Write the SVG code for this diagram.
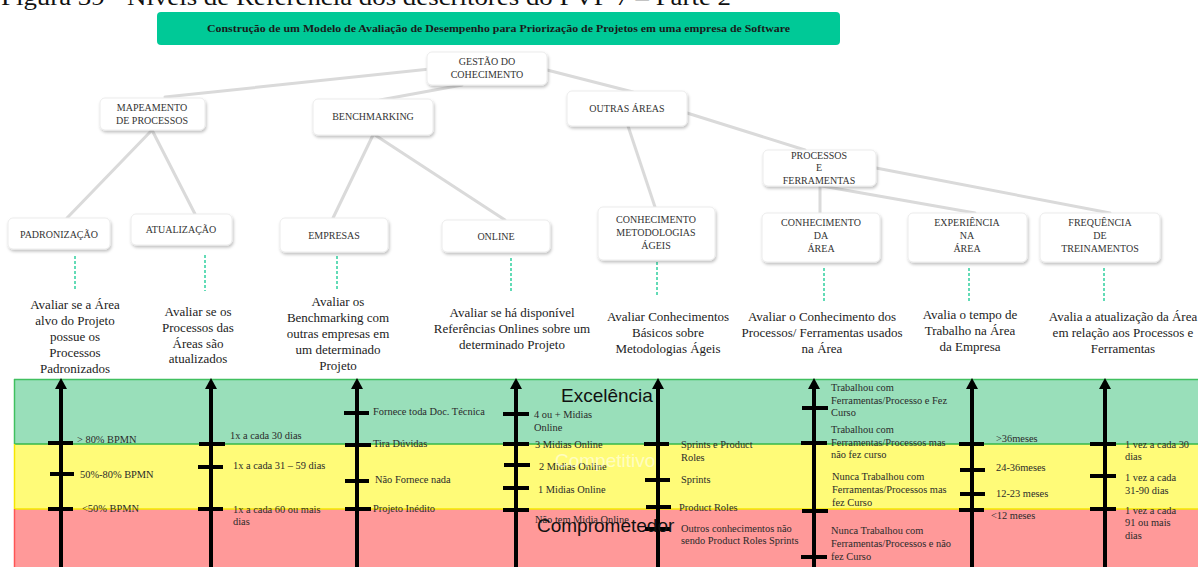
<svg xmlns="http://www.w3.org/2000/svg" width="1198" height="567" viewBox="0 0 1198 567">
  <style>
    .cap { font-family: "Liberation Serif", "Times New Roman", serif; font-size: 24px; fill: #111; }
    .title { font-family: "Liberation Serif", "Times New Roman", serif; font-weight: bold; font-size: 11px; fill: #1a1a1a; }
    .box { fill: #ffffff; stroke: #ececec; stroke-width: 1; filter: url(#shadow); }
    .nt { font-family: "Liberation Serif", "Times New Roman", serif; font-size: 10px; fill: #333; text-anchor: middle; }
    .link { stroke: #dadada; stroke-width: 3; fill: none; stroke-linecap: round; }
    .dash { stroke: #2fcf9f; stroke-width: 1.5; stroke-dasharray: 3 2; fill: none; }
    .desc { font-family: "Liberation Serif", "Times New Roman", serif; font-size: 13px; fill: #222; text-anchor: middle; }
    .axis { stroke: #000; stroke-width: 4; }
    .tick { stroke: #000; stroke-width: 4; }
    .lbl { font-family: "Liberation Serif", "Times New Roman", serif; font-size: 10.4px; fill: #2a2a2a; }
    .band { font-family: "Liberation Sans", Arial, sans-serif; font-size: 19px; }
  </style>
  <defs>
    <filter id="shadow" x="-10%" y="-20%" width="125%" height="160%">
      <feDropShadow dx="1" dy="2" stdDeviation="1.5" flood-color="#000" flood-opacity="0.25"/>
    </filter>
    <!-- arrowhead: base sits on the line end, tip extends 11px beyond -->
    <marker id="head" viewBox="0 0 11 12" refX="0" refY="6" markerWidth="11" markerHeight="12" markerUnits="userSpaceOnUse" orient="auto">
      <path d="M0 0 L11 6 L0 12 Z" fill="#000"/>
    </marker>
  </defs>

  <rect x="0" y="0" width="1198" height="567" fill="#ffffff"/>

  <!-- caption (clipped at top of page) -->
  <text class="cap" x="1" y="5" textLength="730" lengthAdjust="spacingAndGlyphs">Figura 39 - Níveis de Referência dos descritores do PVF 7 – Parte 2</text>

  <!-- title banner -->
  <g id="title">
    <rect x="157" y="12" width="683" height="33" rx="4" fill="#00c997"/>
    <text class="title" x="207" y="32" textLength="583" lengthAdjust="spacingAndGlyphs">Construção de um Modelo de Avaliação de Desempenho para Priorização de Projetos em uma empresa de Software</text>
  </g>

  <!-- tree connectors -->
  <g id="connectors">
    <line class="link" x1="430" y1="69" x2="165" y2="97"/>
    <line class="link" x1="462" y1="85" x2="380" y2="100"/>
    <line class="link" x1="547" y1="70" x2="633" y2="92"/>
    <line class="link" x1="152" y1="130" x2="67" y2="218"/>
    <line class="link" x1="152" y1="130" x2="195" y2="214"/>
    <line class="link" x1="373" y1="135" x2="333" y2="218"/>
    <line class="link" x1="375" y1="135" x2="505" y2="220"/>
    <line class="link" x1="628" y1="126" x2="655" y2="207"/>
    <line class="link" x1="687" y1="113" x2="805" y2="150"/>
    <line class="link" x1="820" y1="186" x2="820" y2="213"/>
    <line class="link" x1="822" y1="186" x2="975" y2="213"/>
    <line class="link" x1="876" y1="168" x2="1110" y2="213"/>
    <!-- dashed leaders to descriptions -->
    <line class="dash" x1="75" y1="256" x2="75" y2="291"/>
    <line class="dash" x1="205" y1="255" x2="205" y2="291"/>
    <line class="dash" x1="337" y1="256" x2="337" y2="291"/>
    <line class="dash" x1="511" y1="258" x2="511" y2="292"/>
    <line class="dash" x1="657" y1="262" x2="657" y2="297"/>
    <line class="dash" x1="824" y1="268" x2="824" y2="303"/>
    <line class="dash" x1="969" y1="268" x2="969" y2="303"/>
    <line class="dash" x1="1104" y1="268" x2="1104" y2="303"/>
  </g>

  <!-- tree nodes -->
  <g id="n-gestao">
    <rect class="box" x="427" y="52" width="120" height="33" rx="5"/>
    <text class="nt" x="487" y="65">GESTÃO DO</text>
    <text class="nt" x="487" y="78">COHECIMENTO</text>
  </g>
  <g id="n-mapeamento">
    <rect class="box" x="100" y="98" width="105" height="32" rx="5"/>
    <text class="nt" x="152" y="111">MAPEAMENTO</text>
    <text class="nt" x="152" y="124">DE PROCESSOS</text>
  </g>
  <g id="n-benchmarking">
    <rect class="box" x="313" y="99" width="120" height="36" rx="5"/>
    <text class="nt" x="373" y="120">BENCHMARKING</text>
  </g>
  <g id="n-outras">
    <rect class="box" x="567" y="91" width="120" height="35" rx="5"/>
    <text class="nt" x="627" y="112">OUTRAS ÁREAS</text>
  </g>
  <g id="n-processos">
    <rect class="box" x="763" y="150" width="113" height="36" rx="5"/>
    <text class="nt" x="819" y="159">PROCESSOS</text>
    <text class="nt" x="819" y="171">E</text>
    <text class="nt" x="819" y="184">FERRAMENTAS</text>
  </g>
  <g id="n-padronizacao">
    <rect class="box" x="8" y="218" width="102" height="31" rx="5"/>
    <text class="nt" x="59" y="238">PADRONIZAÇÃO</text>
  </g>
  <g id="n-atualizacao">
    <rect class="box" x="131" y="214" width="101" height="31" rx="5"/>
    <text class="nt" x="181" y="233">ATUALIZAÇÃO</text>
  </g>
  <g id="n-empresas">
    <rect class="box" x="280" y="218" width="108" height="34" rx="5"/>
    <text class="nt" x="334" y="239">EMPRESAS</text>
  </g>
  <g id="n-online">
    <rect class="box" x="442" y="220" width="108" height="32" rx="5"/>
    <text class="nt" x="496" y="240">ONLINE</text>
  </g>
  <g id="n-metodologias">
    <rect class="box" x="598" y="207" width="117" height="53" rx="5"/>
    <text class="nt" x="656" y="223">CONHECIMENTO</text>
    <text class="nt" x="656" y="236">METODOLOGIAS</text>
    <text class="nt" x="656" y="249">ÁGEIS</text>
  </g>
  <g id="n-conhecimento-area">
    <rect class="box" x="762" y="213" width="118" height="49" rx="5"/>
    <text class="nt" x="821" y="226">CONHECIMENTO</text>
    <text class="nt" x="821" y="239">DA</text>
    <text class="nt" x="821" y="252">ÁREA</text>
  </g>
  <g id="n-experiencia">
    <rect class="box" x="908" y="213" width="119" height="49" rx="5"/>
    <text class="nt" x="967" y="226">EXPERIÊNCIA</text>
    <text class="nt" x="967" y="239">NA</text>
    <text class="nt" x="967" y="252">ÁREA</text>
  </g>
  <g id="n-frequencia">
    <rect class="box" x="1040" y="213" width="120" height="49" rx="5"/>
    <text class="nt" x="1100" y="226">FREQUÊNCIA</text>
    <text class="nt" x="1100" y="239">DE</text>
    <text class="nt" x="1100" y="252">TREINAMENTOS</text>
  </g>

  <!-- descriptor descriptions -->
  <g id="descriptions">
    <text class="desc" x="75" y="309">Avaliar se a Área</text>
    <text class="desc" x="75" y="325">alvo do Projeto</text>
    <text class="desc" x="75" y="341">possue os</text>
    <text class="desc" x="75" y="357">Processos</text>
    <text class="desc" x="75" y="373">Padronizados</text>

    <text class="desc" x="198" y="316">Avaliar se os</text>
    <text class="desc" x="198" y="332">Processos das</text>
    <text class="desc" x="198" y="348">Áreas são</text>
    <text class="desc" x="198" y="363">atualizados</text>

    <text class="desc" x="338" y="306">Avaliar os</text>
    <text class="desc" x="338" y="322">Benchmarking com</text>
    <text class="desc" x="338" y="338">outras empresas em</text>
    <text class="desc" x="338" y="354">um determinado</text>
    <text class="desc" x="338" y="370">Projeto</text>

    <text class="desc" x="512" y="317">Avaliar se há disponível</text>
    <text class="desc" x="512" y="333">Referências Onlines sobre um</text>
    <text class="desc" x="512" y="349">determinado Projeto</text>

    <text class="desc" x="668" y="321">Avaliar Conhecimentos</text>
    <text class="desc" x="668" y="337">Básicos sobre</text>
    <text class="desc" x="668" y="353">Metodologias Ágeis</text>

    <text class="desc" x="822" y="321">Avaliar o Conhecimento dos</text>
    <text class="desc" x="822" y="337">Processos/ Ferramentas usados</text>
    <text class="desc" x="822" y="353">na Área</text>

    <text class="desc" x="970" y="319">Avalia o tempo de</text>
    <text class="desc" x="970" y="335">Trabalho na Área</text>
    <text class="desc" x="970" y="351">da Empresa</text>

    <text class="desc" x="1123" y="321">Avalia a atualização da Área</text>
    <text class="desc" x="1123" y="337">em relação aos Processos e</text>
    <text class="desc" x="1123" y="353">Ferramentas</text>
  </g>

  <!-- performance bands -->
  <g id="bands">
    <rect x="14" y="379" width="1184" height="65" fill="#99dfba"/>
    <rect x="14" y="444" width="1184" height="65" fill="#fffb78"/>
    <rect x="14" y="509" width="1184" height="58" fill="#ff9999"/>
    <line x1="14" y1="379.5" x2="1198" y2="379.5" stroke="#40c060" stroke-width="1.5"/>
    <line x1="14" y1="444" x2="1198" y2="444" stroke="#35b84a" stroke-width="1.5"/>
    <line x1="14" y1="509" x2="1198" y2="509" stroke="#f5e600" stroke-width="1.5"/>
    <line x1="14.5" y1="379" x2="14.5" y2="444" stroke="#40c060" stroke-width="1.5"/>
    <line x1="14.5" y1="444" x2="14.5" y2="509" stroke="#f5e600" stroke-width="1.5"/>
    <line x1="14.5" y1="509" x2="14.5" y2="567" stroke="#ff5555" stroke-width="1.5"/>
  </g>

  <!-- scale axes -->
  <g id="axes">
    <line class="axis" x1="61" y1="567" x2="61" y2="389" marker-end="url(#head)"/>
    <line class="axis" x1="211" y1="567" x2="211" y2="389" marker-end="url(#head)"/>
    <line class="axis" x1="357" y1="567" x2="357" y2="389" marker-end="url(#head)"/>
    <line class="axis" x1="516" y1="567" x2="516" y2="389" marker-end="url(#head)"/>
    <line class="axis" x1="658" y1="567" x2="658" y2="389" marker-end="url(#head)"/>
    <line class="axis" x1="814" y1="567" x2="814" y2="389" marker-end="url(#head)"/>
    <line class="axis" x1="972" y1="567" x2="972" y2="389" marker-end="url(#head)"/>
    <line class="axis" x1="1105" y1="567" x2="1105" y2="389" marker-end="url(#head)"/>
  </g>

  <!-- scale ticks -->
  <g id="ticks">
    <line class="tick" x1="48" y1="443" x2="73" y2="443"/>
    <line class="tick" x1="50" y1="474" x2="74" y2="474"/>
    <line class="tick" x1="48" y1="509" x2="73" y2="509"/>

    <line class="tick" x1="199" y1="444" x2="225" y2="444"/>
    <line class="tick" x1="198" y1="467" x2="223" y2="467"/>
    <line class="tick" x1="198" y1="509" x2="223" y2="509"/>

    <line class="tick" x1="344" y1="413" x2="369" y2="413"/>
    <line class="tick" x1="345" y1="445" x2="371" y2="445"/>
    <line class="tick" x1="345" y1="481" x2="369" y2="481"/>
    <line class="tick" x1="345" y1="509" x2="371" y2="509"/>

    <line class="tick" x1="503" y1="414" x2="529" y2="414"/>
    <line class="tick" x1="503" y1="444" x2="529" y2="444"/>
    <line class="tick" x1="504" y1="465" x2="530" y2="465"/>
    <line class="tick" x1="503" y1="488" x2="529" y2="488"/>
    <line class="tick" x1="503" y1="510" x2="529" y2="510"/>

    <line class="tick" x1="644" y1="444" x2="669" y2="444"/>
    <line class="tick" x1="645" y1="480" x2="670" y2="480"/>
    <line class="tick" x1="646" y1="507" x2="671" y2="507"/>
    <line class="tick" x1="645" y1="529" x2="670" y2="529"/>

    <line class="tick" x1="802" y1="408" x2="828" y2="408"/>
    <line class="tick" x1="801" y1="443" x2="827" y2="443"/>
    <line class="tick" x1="802" y1="511" x2="828" y2="511"/>
    <line class="tick" x1="801" y1="557" x2="827" y2="557"/>

    <line class="tick" x1="959" y1="444" x2="984" y2="444"/>
    <line class="tick" x1="960" y1="470" x2="985" y2="470"/>
    <line class="tick" x1="960" y1="494" x2="985" y2="494"/>
    <line class="tick" x1="959" y1="510" x2="984" y2="510"/>

    <line class="tick" x1="1090" y1="444" x2="1116" y2="444"/>
    <line class="tick" x1="1090" y1="476" x2="1116" y2="476"/>
    <line class="tick" x1="1090" y1="509" x2="1116" y2="509"/>
  </g>

  <!-- reference level labels -->
  <g id="labels">
    <text class="lbl" x="77" y="443">&gt; 80% BPMN</text>
    <text class="lbl" x="80" y="478">50%-80% BPMN</text>
    <text class="lbl" x="82" y="512">&lt;50% BPMN</text>

    <text class="lbl" x="230" y="439">1x a cada 30 dias</text>
    <text class="lbl" x="233" y="469">1x a cada 31 – 59 dias</text>
    <text class="lbl" x="233" y="513">1x a cada 60 ou mais</text>
    <text class="lbl" x="233" y="525">dias</text>

    <text class="lbl" x="373" y="415">Fornece toda Doc. Técnica</text>
    <text class="lbl" x="373" y="447">Tira Dúvidas</text>
    <text class="lbl" x="375" y="483">Não Fornece nada</text>
    <text class="lbl" x="373" y="512">Projeto Inédito</text>

    <text class="lbl" x="534" y="418">4 ou + Midias</text>
    <text class="lbl" x="534" y="431">Online</text>
    <text class="lbl" x="535" y="448">3 Midias Online</text>
    <text class="lbl" x="539" y="470">2 Midias Online</text>
    <text class="lbl" x="538" y="493">1 Midias Online</text>
    <text class="lbl" x="535" y="523">Não tem Midia Online</text>

    <text class="lbl" x="681" y="448">Sprints e Product</text>
    <text class="lbl" x="681" y="461">Roles</text>
    <text class="lbl" x="681" y="483">Sprints</text>
    <text class="lbl" x="679" y="511">Product Roles</text>
    <text class="lbl" x="681" y="532">Outros conhecimentos não</text>
    <text class="lbl" x="681" y="544">sendo Product Roles Sprints</text>

    <text class="lbl" x="831" y="391">Trabalhou com</text>
    <text class="lbl" x="831" y="404">Ferramentas/Processo e Fez</text>
    <text class="lbl" x="831" y="416">Curso</text>
    <text class="lbl" x="831" y="433">Trabalhou com</text>
    <text class="lbl" x="831" y="446">Ferramentas/Processos mas</text>
    <text class="lbl" x="831" y="458">não fez curso</text>
    <text class="lbl" x="832" y="480">Nunca Trabalhou  com</text>
    <text class="lbl" x="832" y="493">Ferramentas/Processos mas</text>
    <text class="lbl" x="832" y="506">fez Curso</text>
    <text class="lbl" x="831" y="534">Nunca Trabalhou  com</text>
    <text class="lbl" x="831" y="547">Ferramentas/Processos e não</text>
    <text class="lbl" x="831" y="560">fez Curso</text>

    <text class="lbl" x="996" y="442">&gt;36meses</text>
    <text class="lbl" x="996" y="471">24-36meses</text>
    <text class="lbl" x="996" y="497">12-23 meses</text>
    <text class="lbl" x="991" y="519">&lt;12 meses</text>

    <text class="lbl" x="1125" y="448">1 vez a cada 30</text>
    <text class="lbl" x="1125" y="460">dias</text>
    <text class="lbl" x="1125" y="481">1 vez a cada</text>
    <text class="lbl" x="1125" y="494">31-90 dias</text>
    <text class="lbl" x="1125" y="514">1 vez a cada</text>
    <text class="lbl" x="1125" y="526">91 ou mais</text>
    <text class="lbl" x="1125" y="539">dias</text>
  </g>

  <!-- band names -->
  <g id="band-names">
    <text class="band" x="561" y="402" fill="#111">Excelência</text>
    <text class="band" x="555" y="467" fill="#ffffff" fill-opacity="0.55">Competitivo</text>
    <text class="band" x="537" y="532" fill="#111">Comprometedor</text>
  </g>
</svg>
